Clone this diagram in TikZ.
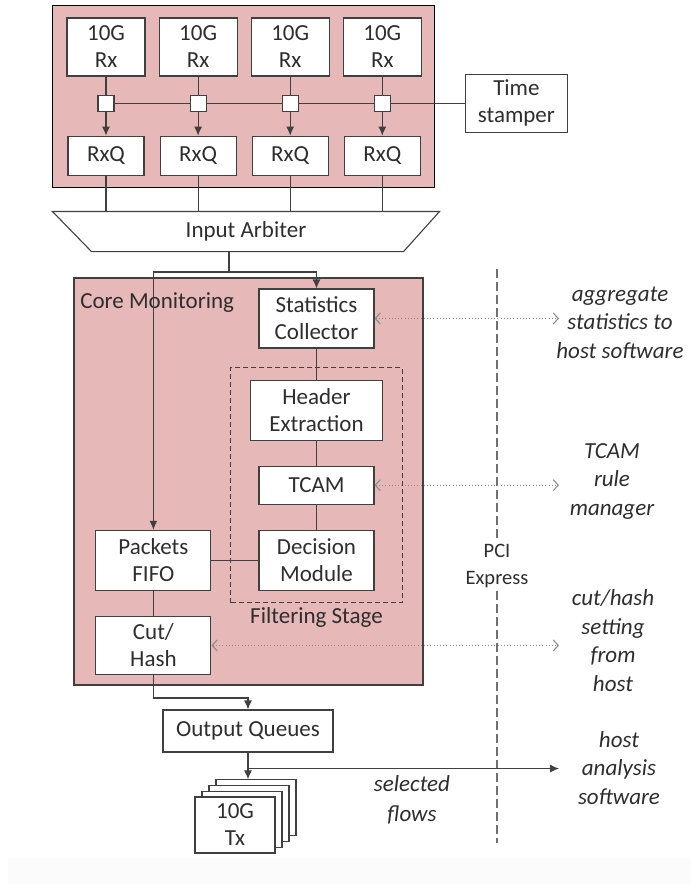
\documentclass[tikz,border=0pt]{standalone}
\usepackage{fontspec}
\setmainfont{Carlito}
\usepackage{tikz}
\usetikzlibrary{arrows.meta, fit, calc, positioning, backgrounds}

\definecolor{corepink}{HTML}{E6B8B7}
\definecolor{edgegray}{HTML}{404040}
\definecolor{linkgray}{HTML}{8C8C8C}

\begin{document}
\begin{tikzpicture}[x=1pt, y=-1pt, >={Latex[length=9pt,width=8pt]}, line width=1.1pt,
    color=edgegray, text=black!82, node distance=13pt,
    font=\fontsize{23}{27}\selectfont,
    blk/.style={draw, fill=white, align=center, inner sep=0pt},
    frame/.style={draw, fill=corepink, line width=1.2pt},
    junc/.style={draw, fill=white, minimum size=16pt, inner sep=0pt},
    hostlbl/.style={font=\fontsize{23}{28.5}\selectfont\itshape, align=center},
    hostlink/.style={<->, >={Straight Barb[length=5pt,width=11pt]}, linkgray,
                     dash pattern=on 1pt off 2.2pt},
    pcie/.style={linkgray!80!black, line width=1.2pt, dash pattern=on 9pt off 4pt}]

    \useasboundingbox (0,0) rectangle (691,884);
    \fill[black!1.5] (8,858) rectangle (691,884);

    % receive side
    \node[blk, minimum width=78pt, minimum height=58pt] (rx1) at (106,47) {10G\\Rx};
    \foreach \i [count=\j from 2] in {1,2,3}
        \node[blk, minimum width=78pt, minimum height=58pt, right=of rx\i] (rx\j) {10G\\Rx};
    \foreach \i in {1,...,4} {
        \node[junc, below=18pt of rx\i] (j\i) {};
        \node[blk, minimum width=76pt, minimum height=39pt, below=24pt of j\i] (q\i) {RxQ};
    }
    \node[blk, minimum width=102pt, minimum height=58pt, right=74pt of j4] (ts) {Time\\stamper};

    \begin{scope}[on background layer]
        \node[frame, fit=(rx1) (q4), inner xsep=14pt, inner ysep=12pt] (rxside) {};
    \end{scope}

    \foreach \i in {1,...,4} {
        \draw (rx\i) -- (j\i);
        \draw[->] (j\i) -- (q\i);
    }
    \foreach \i/\j in {1/2, 2/3, 3/4}
        \draw (j\i) -- (j\j);
    \draw (j4) -- (ts);

    % arbiter
    \node[minimum width=386pt, minimum height=39pt, inner sep=0pt] (arb) at (246,231.5) {Input Arbiter};
    \draw (arb.north west) -- (arb.north east) -- ([xshift=-36pt]arb.south east)
        -- ([xshift=39pt]arb.south west) -- cycle;
    \foreach \i in {1,...,4}
        \draw (q\i) -- (q\i |- arb.north);

    % core monitoring
    \node[frame, minimum width=349pt, minimum height=407pt] (core) at (248.5,481.5) {};
    \node[anchor=west] (corelbl) at ($(core.north west)+(3,25)$) {Core Monitoring};

    \node[blk, minimum width=115pt, minimum height=59pt] (stats) at (316.5,318.5) {Statistics\\Collector};
    \node[blk, minimum width=132pt, minimum height=60pt, below=31pt of stats] (hdr) {Header\\Extraction};
    \node[blk, minimum width=115pt, minimum height=38pt, below=25pt of hdr] (tcam) {TCAM};
    \node[blk, minimum width=115pt, minimum height=60pt, below=25pt of tcam] (dec) {Decision\\Module};
    \node[blk, minimum width=115pt, minimum height=60pt, left=47pt of dec] (fifo) {Packets\\FIFO};
    \node[blk, minimum width=115pt, minimum height=58pt, below=25pt of fifo] (cut) {Cut/\\Hash};

    \node[draw, dash pattern=on 5pt off 3pt, line width=1pt, fit=(hdr) (dec),
          inner xsep=19pt, inner ysep=12pt] (filt) {};
    \node[below=0pt of filt] (filtlbl) {Filtering Stage};

    \coordinate (split) at (229,272);
    \draw (arb.south -| split) -- (split);
    \draw[->] (split) -| (stats);
    \draw[->] (split) -| (fifo);

    \draw (stats) -- (hdr);
    \draw (hdr) -- (tcam);
    \draw (tcam) -- (dec);
    \draw (fifo) -- (dec);
    \draw (fifo) -- (cut);

    % transmit side
    \node[blk, minimum width=170pt, minimum height=42pt] (oq) at (248,731) {Output Queues};
    \foreach \k in {3,2,1}
        \node[blk, minimum width=80pt, minimum height=56pt] (tx\k) at ({235+7*\k},{825-5.7*\k}) {};
    \node[blk, minimum width=80pt, minimum height=56pt] (tx0) at (235,825) {10G\\Tx};

    \draw[->] (cut.south) -- ++(0,23) -| (oq);
    \draw[->] (oq.south) -- (oq.south |- tx3.north);

    % host side
    \coordinate (hostside) at (559,0);
    \coordinate (pcitop) at (497,269);
    \coordinate (pcibot) at (497,843);
    \node[font=\fontsize{20.5}{27}\selectfont, align=center, inner ysep=3pt] (pci) at (497,566) {PCI\\Express};
    \draw[pcie] (pcitop) -- (pci.north);
    \draw[pcie] (pci.south) -- (pcibot);

    \node[hostlbl] (agg) at (620,322.5) {aggregate\\statistics to\\host software};
    \node[hostlbl] (rulemgr) at (612,481.5) {TCAM\\rule\\manager};
    \node[hostlbl] (cutset) at (613,640.5) {cut/hash\\setting\\from\\host};
    \node[hostlbl] (analysis) at (619,768) {host\\analysis\\software};
    \node[hostlbl, font=\fontsize{23}{30}\selectfont\itshape] (flows) at (412,800) {selected\\flows};

    \draw[hostlink] (stats.east) -- (stats.east -| hostside);
    \draw[hostlink] (tcam.east) -- (tcam.east -| hostside);
    \draw[hostlink] (cut.east) -- (cut.east -| hostside);

    \coordinate (tap) at ($(oq.south)+(0,16)$);
    \draw[->] (tap) -- (tap -| hostside);
\end{tikzpicture}
\end{document}
